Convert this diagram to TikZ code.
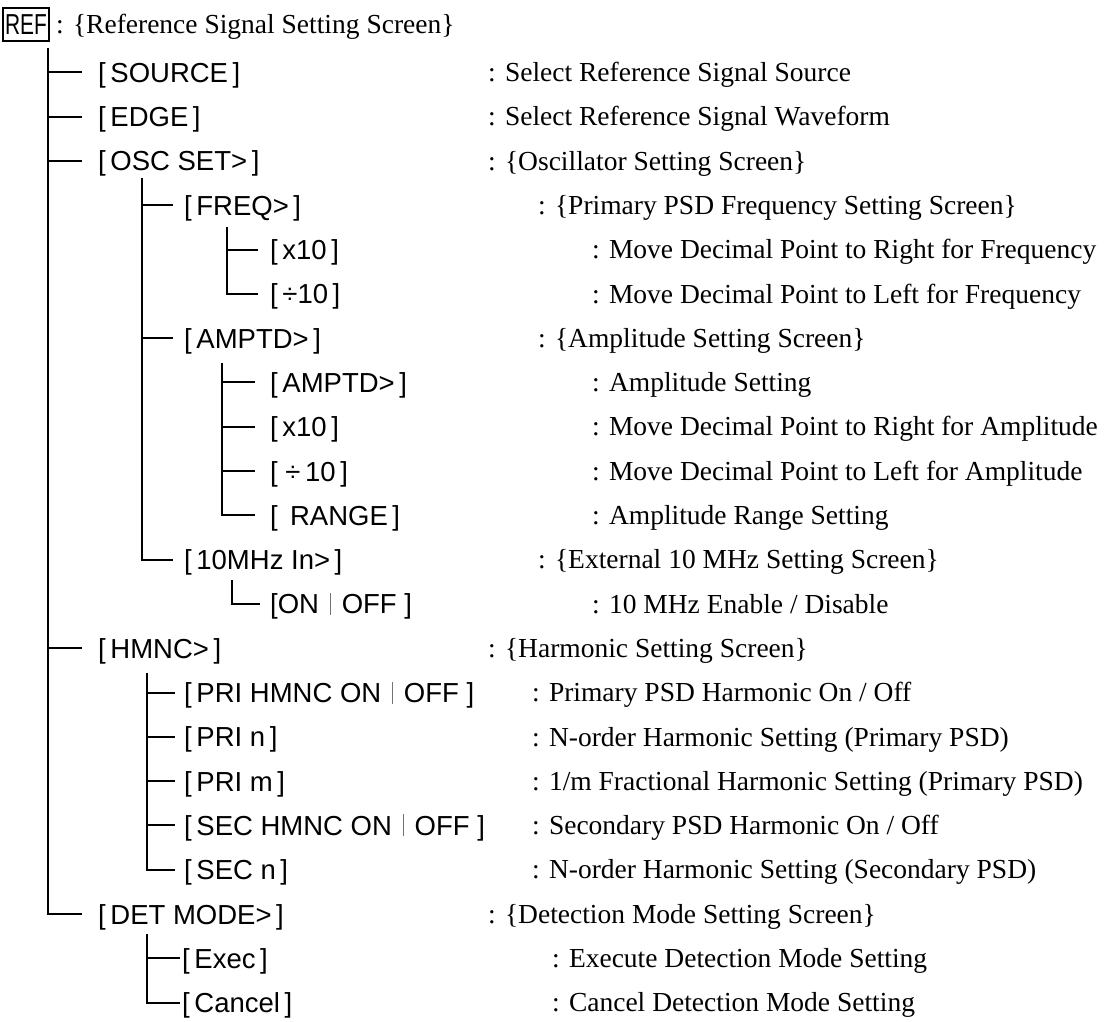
\documentclass[tikz,border=0pt]{standalone}
\usepackage{fontspec}
\setmainfont{Liberation Serif}
\newfontfamily\labfont{Liberation Sans}
\newcommand{\vbar}{\hspace{0.4em}\textcolor{black!55}{\rule[-1pt]{0.7pt}{22pt}}\hspace{0.4em}}
\begin{document}
\begin{tikzpicture}[x=1pt,y=1pt,
  lbl/.style={font=\labfont\fontsize{27.5}{32}\selectfont, anchor=west, inner sep=0pt, text height=20pt, text depth=0pt},
  dsc/.style={font=\fontsize{27.5}{32}\selectfont, anchor=west, inner sep=0pt, text height=18.5pt, text depth=0pt},
  conn/.style={line width=2pt}]
\useasboundingbox (0,0) rectangle (1118,-1021);

% root
\node[lbl, draw, line width=2pt, minimum width=46pt, minimum height=33pt, inner xsep=0pt] (ref) at (2,-24) {\scalebox{0.76}[1.05]{REF}};
\node[dsc] (dref) at (56,-24) {: \{Reference Signal Setting Screen\}};

% level 1
\node[lbl] (src)  at (98,-72.3)  {[\,SOURCE\,]};
\node[lbl] (edge) at (98,-116.6) {[\,EDGE\,]};
\node[lbl] (osc)  at (98,-160.9) {[\,OSC SET>\,]};
\node[lbl] (hmnc) at (98,-648.2) {[\,HMNC>\,]};
\node[lbl] (det)  at (98,-914)   {[\,DET MODE>\,]};

\node[dsc] (dsrc)  at (488,-72.3)  {: Select Reference Signal Source};
\node[dsc] (dedge) at (488,-116.6) {: Select Reference Signal Waveform};
\node[dsc] (dosc)  at (488,-160.9) {: \{Oscillator Setting Screen\}};
\node[dsc] (dhmnc) at (488,-648.2) {: \{Harmonic Setting Screen\}};
\node[dsc] (ddet)  at (488,-914)   {: \{Detection Mode Setting Screen\}};

% OSC children
\node[lbl] (freq) at (184,-205.2) {[\,FREQ>\,]};
\node[lbl] (amp)  at (184,-338.1) {[\,AMPTD>\,]};
\node[lbl] (mhz)  at (184,-559.6) {[\,10MHz In>\,]};
\node[dsc] (dfreq) at (538,-205.2) {: \{Primary PSD Frequency Setting Screen\}};
\node[dsc] (damp)  at (538,-338.1) {: \{Amplitude Setting Screen\}};
\node[dsc] (dmhz)  at (538,-559.6) {: \{External 10 MHz Setting Screen\}};

% FREQ children
\node[lbl] (fx)  at (270,-249.5) {[\,x10\,]};
\node[lbl] (fd)  at (270,-293.8) {[\,÷10\,]};
\node[dsc] (dfx) at (592,-249.5) {: Move Decimal Point to Right for Frequency};
\node[dsc] (dfd) at (592,-293.8) {: Move Decimal Point to Left for Frequency};

% AMPTD children
\node[lbl] (aa) at (270,-382.4) {[\,AMPTD>\,]};
\node[lbl] (ax) at (270,-426.7) {[\,x10\,]};
\node[lbl] (ad) at (270,-471)   {[\;÷\,10\,]};
\node[lbl] (ar) at (270,-515.3) {[\ \,RANGE\,]};
\node[dsc] (daa) at (592,-382.4) {: Amplitude Setting};
\node[dsc] (dax) at (592,-426.7) {: Move Decimal Point to Right for Amplitude};
\node[dsc] (dad) at (592,-471)   {: Move Decimal Point to Left for Amplitude};
\node[dsc] (dar) at (592,-515.3) {: Amplitude Range Setting};

% 10MHz child
\node[lbl] (on) at (270,-603.9) {[ON\vbar OFF ]};
\node[dsc] (don) at (592,-603.9) {: 10 MHz Enable / Disable};

% HMNC children
\node[lbl] (h1) at (184,-692.5) {[\,PRI HMNC ON\vbar OFF ]};
\node[lbl] (h2) at (184,-736.8) {[\,PRI n\,]};
\node[lbl] (h3) at (184,-781.1) {[\,PRI m\,]};
\node[lbl] (h4) at (184,-825.4) {[\,SEC HMNC ON\vbar OFF ]};
\node[lbl] (h5) at (184,-869.7) {[\,SEC n\,]};
\node[dsc] (dh1) at (532,-692.5) {: Primary PSD Harmonic On / Off};
\node[dsc] (dh2) at (532,-736.8) {: N-order Harmonic Setting (Primary PSD)};
\node[dsc] (dh3) at (532,-781.1) {: 1/m Fractional Harmonic Setting (Primary PSD)};
\node[dsc] (dh4) at (532,-825.4) {: Secondary PSD Harmonic On / Off};
\node[dsc] (dh5) at (532,-869.7) {: N-order Harmonic Setting (Secondary PSD)};

% DET children
\node[lbl] (ex) at (182,-958.3)  {[\,Exec\,]};
\node[lbl] (ca) at (182,-1002.6) {[\,Cancel\,]};
\node[dsc] (dex) at (552,-958.3)  {: Execute Detection Mode Setting};
\node[dsc] (dca) at (552,-1002.6) {: Cancel Detection Mode Setting};

% connectors
\coordinate (t0) at (48,-48);
\foreach \c in {src,edge,osc,hmnc,det} \draw[conn] (t0) |- ([xshift=-16pt]\c.west);

\coordinate (t1) at (142,-178);
\foreach \c in {freq,amp,mhz} \draw[conn] (t1) |- ([xshift=-11pt]\c.west);

\coordinate (t2) at (227,-227);
\foreach \c in {fx,fd} \draw[conn] (t2) |- ([xshift=-12pt]\c.west);

\coordinate (t3) at (222,-363);
\foreach \c in {aa,ax,ad,ar} \draw[conn] (t3) |- ([xshift=-15pt]\c.west);

\coordinate (t4) at (232,-580);
\draw[conn] (t4) |- ([xshift=-10pt]on.west);

\coordinate (t5) at (147,-673);
\foreach \c in {h1,h2,h3,h4,h5} \draw[conn] (t5) |- ([xshift=-9pt]\c.west);

\coordinate (t6) at (147,-934);
\foreach \c in {ex,ca} \draw[conn] (t6) |- ([xshift=-2pt]\c.west);
\end{tikzpicture}
\end{document}
